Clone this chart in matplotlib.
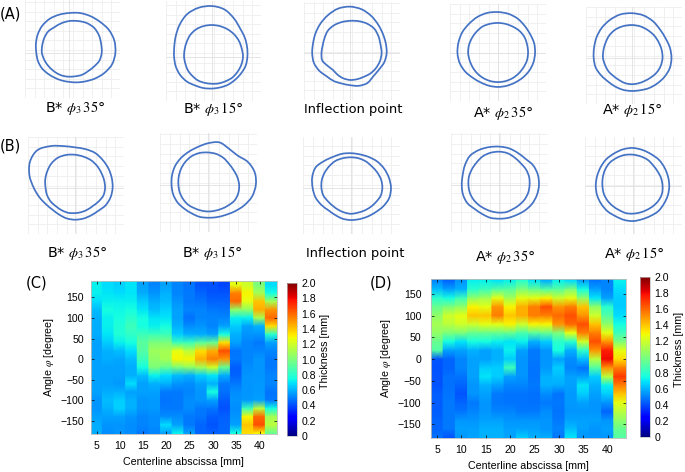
import numpy as np
import matplotlib
matplotlib.use("Agg")
import matplotlib.pyplot as plt
from matplotlib.path import Path
from matplotlib.patches import PathPatch
from matplotlib.cm import ScalarMappable
from matplotlib.colors import Normalize

plt.rcParams['font.family'] = ['Liberation Sans', 'DejaVu Sans']
plt.rcParams['mathtext.fontset'] = 'stix'

W, H = 685, 472
BLUE = "#4472c4"

# wall contours: radius every 15 degrees, ccw from +x (grid step = 10)
a1_outer = [48,49,48,45,44,43,41,41,41,40,38,36,34,34,33,31,30,30,30,32,34,38,42,47]
a1_inner = [34,34,36,37,36,34,33,32,30,32,30,29,29,27,26,25,25,25,25,25,27,27,29,33]
a2_outer = [37,38,40,41,46,52,53,53,52,47,43,40,39,39,38,37,34,34,33,33,34,34,35,37]
a2_inner = [33,32,33,33,33,33,33,33,33,32,30,29,29,28,29,28,29,28,28,29,29,31,31,32]
a3_outer = [38,38,39,41,44,47,48,48,45,43,41,39,39,39,37,33,34,32,33,35,37,33,34,37]
a3_inner = [33,32,34,36,35,34,33,33,33,33,30,29,29,31,26,24,26,27,28,28,28,30,31,32]
a4_outer = [38,39,38,39,41,42,42,43,43,42,43,42,42,41,39,36,35,35,35,35,35,36,37,38]
a4_inner = [31,31,32,32,31,31,31,31,32,31,31,31,31,30,30,30,30,30,30,30,30,30,30,31]
a5_outer = [41,41,40,41,44,46,46,47,45,44,42,40,39,39,36,34,34,34,34,34,36,37,39,41]
a5_inner = [32,32,32,33,33,34,34,34,34,33,31,30,30,28,28,26,26,27,27,27,27,28,30,31]
b1_outer = [39,39,40,40,42,41,41,44,49,57,54,49,42,38,34,32,32,33,33,33,33,33,37,38]
b1_inner = [31,31,31,32,33,33,34,35,36,35,33,32,30,30,29,27,27,27,26,26,26,26,28,31]
b2_outer = [49,50,48,41,42,47,42,40,39,39,39,38,37,37,36,34,33,34,33,34,35,38,42,47]
b2_inner = [32,31,30,30,32,33,33,34,34,33,32,31,30,30,29,29,27,27,27,27,28,29,32,32]
b3_outer = [41,40,39,38,36,35,35,36,36,38,43,41,39,38,35,32,32,33,33,33,34,35,38,41]
b3_inner = [32,32,31,30,31,31,31,31,32,31,31,31,30,30,27,26,26,26,27,26,27,28,29,32]
b4_outer = [41,41,41,37,38,39,39,40,41,43,40,38,38,38,38,34,34,35,34,35,35,37,39,40]
b4_inner = [31,32,32,31,32,34,34,34,34,32,32,32,31,31,30,29,28,28,28,29,28,29,30,31]
b5_outer = [37,37,37,38,37,38,39,39,38,39,38,38,38,38,37,37,35,36,36,35,35,37,36,37]
b5_inner = [30,30,29,29,31,31,32,33,33,34,33,32,31,31,30,29,28,29,28,28,28,29,30,31]

# thickness maps, one list per 2.5 mm column, rows from +180 down to -180
rows = [180,160,140,120,100,80,60,40,20,0,-20,-40,-60,-80,-100,-120,-140,-160,-180]
c_cols = [
    [.72,.72,.68,.62,.6,.59,.59,.57,.57,.57,.57,.57,.57,.57,.54,.54,.57,.59,.59],
    [.68,.7,.72,.75,.72,.72,.7,.65,.6,.59,.57,.57,.57,.59,.62,.6,.57,.54,.53],
    [.66,.68,.72,.74,.75,.78,.78,.72,.62,.58,.57,.57,.55,.6,.65,.66,.57,.54,.54],
    [.7,.7,.72,.75,.8,.85,.82,.75,.68,.62,.59,.6,.68,.57,.6,.6,.54,.53,.53],
    [.57,.59,.65,.7,.75,.75,.85,.92,.9,.85,.75,.62,.57,.57,.54,.54,.51,.51,.49],
    [.51,.54,.59,.62,.7,.72,.85,1,1.08,1.05,1,.72,.6,.57,.55,.55,.53,.53,.51],
    [.57,.6,.62,.66,.7,.75,.85,1,1.1,1.1,.95,.68,.6,.49,.48,.49,.53,.68,.57],
    [.51,.51,.54,.57,.57,.6,.65,.85,1.25,1.3,1,.62,.54,.49,.49,.49,.53,.57,.72],
    [.48,.49,.49,.51,.47,.53,.6,.85,1.15,1.3,1.05,.6,.53,.51,.53,.53,.49,.49,.57],
    [.42,.45,.48,.51,.51,.54,.59,.92,1.35,1.45,1.1,.65,.57,.54,.54,.49,.48,.45,.45],
    [.41,.42,.45,.49,.51,.51,.57,.95,1.45,1.55,1.2,.7,.6,.75,.57,.48,.43,.42,.44],
    [.39,.42,.45,.48,.51,.57,.75,1.35,1.65,1.5,.95,.59,.49,.47,.43,.41,.44,.45,.45],
    [1.25,1.55,1.6,1.05,.72,.65,.6,.57,.48,.49,.43,.45,.49,.53,.54,.53,.54,.57,.75],
    [1.2,1.3,1.25,1.05,.72,.57,.54,.51,.51,.51,.53,.54,.54,.54,.55,.85,1.3,1.4,1.35],
    [1,1.1,1.4,1.45,1.1,.6,.54,.49,.51,.54,.54,.54,.55,.55,.57,1.15,1.6,1.65,1.3],
    [.68,.75,1.1,1.5,1.6,1.35,.8,.57,.51,.49,.49,.51,.51,.48,.49,.75,1.1,1.15,.95],
]
d_cols = [
    [.51,.62,.8,.95,1.05,1.1,1.05,.95,.9,.42,.41,.42,.41,.43,.43,.43,.45,.45,.48],
    [.45,.57,.75,1,1.2,1.15,1,.75,.57,.45,.45,.47,.47,.48,.49,.49,.49,.49,.42],
    [.54,.6,.85,1.05,1.25,1.2,1,.7,.57,.51,.51,.48,.45,.42,.45,.48,.54,.57,.54],
    [.72,.8,1.05,1.3,1.4,1.2,.95,.75,.6,.57,.57,.57,.54,.54,.49,.51,.54,.57,.57],
    [.72,.85,1.1,1.25,1.4,1.25,.95,.75,.57,.57,.65,.7,.6,.57,.54,.54,.57,.6,.6],
    [.7,.9,1.25,1.5,1.55,1.25,.95,.72,.6,.6,.65,.65,.57,.49,.49,.51,.57,.6,.6],
    [.72,.92,1.1,1.3,1.4,1.3,.95,.7,.72,.65,.85,.57,.51,.48,.48,.51,.54,.57,.57],
    [.8,1,1.25,1.45,1.45,1.2,.88,.72,.57,.54,.54,.54,.51,.48,.48,.49,.54,.57,.65],
    [.7,.95,1.25,1.55,1.55,1.3,.92,.6,.49,.49,.48,.48,.49,.47,.47,.49,.54,.57,.6],
    [.6,.9,1.3,1.65,1.55,1.3,.95,.65,.54,.54,.55,.6,.6,.53,.49,.53,.54,.54,.59],
    [.72,.92,1.2,1.5,1.6,1.5,1,.8,.75,.57,.65,.62,.59,.48,.49,.48,.49,.51,.48],
    [.68,1,1.25,1.55,1.65,1.6,1.25,.8,.6,.53,.51,.57,.57,.55,.55,.54,.57,.62,.7],
    [.57,.75,1.05,1.4,1.5,1.65,1.55,1.2,.82,.62,.48,.57,.7,.65,.57,.54,.57,.57,.54],
    [.48,.57,.7,1.05,1.2,1.4,1.55,1.65,1.5,1.15,.9,.65,.6,.57,.54,.54,.57,.54,.54],
    [.51,.51,.57,.8,.9,1.05,1.25,1.5,1.75,1.8,1.5,1.15,.72,.65,.54,.45,.54,.57,.54],
    [.72,.68,.65,.65,.68,.75,.85,1.0,1.25,1.35,1.55,1.7,1.55,1.4,1.25,1.15,1.05,.95,.9],
]
x_ticks = [5,10,15,20,25,30,35,40]
y_ticks = [-150,-100,-50,0,50,100,150]
cb_ticks = [0,0.2,0.4,0.6,0.8,1.0,1.2,1.4,1.6,1.8,2.0]
cb_labels = ['0','0.2','0.4','0.6','0.8','1.0','1.2','1.4','1.6','1.8','2.0']

fig = plt.figure(figsize=(W/100, H/100), dpi=100)


def box(x0, y0, x1, y1):
    # pixel box (y down) to figure fractions
    return [x0/W, 1-y1/H, (x1-x0)/W, (y1-y0)/H]


def ring(ax, radii):
    # closed smooth curve through the read points, evens out reading jitter
    r = np.array(radii, dtype=float)
    r = 0.2*np.roll(r, 1)+0.6*r+0.2*np.roll(r, -1)
    a = np.deg2rad(np.arange(len(r))*15)
    p = np.c_[r*np.cos(a), r*np.sin(a)]
    verts = [p[0]]
    codes = [Path.MOVETO]
    n = len(p)
    for i in range(n):
        p0, p1, p2, p3 = p[i-1], p[i], p[(i+1) % n], p[(i+2) % n]
        verts += [p1+(p2-p0)/6, p2-(p3-p1)/6, p2]
        codes += [Path.CURVE4]*3
    ax.add_patch(PathPatch(Path(verts, codes), fill=False, ec=BLUE, lw=1.25))


def contour_panel(x0, y0, x1, y1, cx, cy, outer, inner):
    ax = fig.add_axes(box(x0, y0, x1, y1))
    s = (x1-x0)/99.0
    ax.set_xlim((x0-cx)/s, (x1-cx)/s)
    ax.set_ylim((cy-y1)/s, (cy-y0)/s)
    for sp in ax.spines.values():
        sp.set_visible(False)
    ax.set_xticks([])
    ax.set_yticks([])
    for k in range(11):
        ax.axvline(ax.get_xlim()[0]+k*10, color="#eeeeee", lw=0.6, zorder=0)
        ax.axhline(ax.get_ylim()[0]+k*10, color="#eeeeee", lw=0.6, zorder=0)
    ax.axvline(0, color="#e0e0e0", lw=0.6, zorder=0)
    ax.axhline(0, color="#e0e0e0", lw=0.6, zorder=0)
    ring(ax, outer)
    ring(ax, inner)


contour_panel(25, 0, 120, 98, 69.3, 52.7, a1_outer, a1_inner)
contour_panel(166, 1, 261, 101, 211.7, 56.7, a2_outer, a2_inner)
contour_panel(304, 2, 400, 100, 350, 53, a3_outer, a3_inner)
contour_panel(450, 4, 546, 101, 498, 53, a4_outer, a4_inner)
contour_panel(586, 7, 682, 104, 631.7, 58, a5_outer, a5_inner)
contour_panel(28, 137, 124, 234, 75, 187.7, b1_outer, b1_inner)
contour_panel(160, 133, 257, 232, 208, 185, b2_outer, b2_inner)
contour_panel(303, 137, 400, 234, 351, 187.7, b3_outer, b3_inner)
contour_panel(451, 133, 548, 232, 499, 185, b4_outer, b4_inner)
contour_panel(585, 137, 682, 234, 633, 186, b5_outer, b5_inner)


def label(x, y, s, size=10.4):
    fig.text(x/W, 1-y/H, s, ha='center', va='center', fontsize=size,
             family=['DejaVu Sans'])


phi3 = r"$\phi_{3}\,\mathrm{%d}$°"
phi2 = r"$\phi_{2}\,\mathrm{%d}$°"
for x, y, s in [(75, 108, "B* "+phi3 % 35), (213, 109, "B* "+phi3 % 15),
                (503, 113, "A* "+phi2 % 35), (632, 110, "A* "+phi2 % 15),
                (77, 253, "B* "+phi3 % 35), (212, 253, "B* "+phi3 % 15),
                (505, 257, "A* "+phi2 % 35), (634, 254, "A* "+phi2 % 15)]:
    label(x, y, s)
for x, y, s in [(353, 109, "Inflection point"), (355, 253, "Inflection point")]:
    label(x, y, s, 9.4)
for x, y, s in [(10, 14, "(A)"), (10, 146, "(B)"), (37, 283, "(C)"), (381, 283, "(D)")]:
    label(x, y, s, 10.5)


def heat_panel(axbox, cbbox, cols, ylim, ypad, ylab_x, xlab_y, cb_lab):
    ax = fig.add_axes(box(*axbox))
    norm = Normalize(0, 2)
    xedges = 3.75+2.5*np.arange(len(cols)+1)
    # sharp between columns, smooth along each column
    yy = np.array([rows[0]+10]+rows+[rows[-1]-10], dtype=float)
    for i, col in enumerate(cols):
        vals = np.array([col[0]]+col+[col[-1]])
        ax.pcolormesh(xedges[i:i+2], yy, np.c_[vals, vals], cmap='jet', norm=norm,
                      shading='gouraud')
    ax.set_xlim(xedges[0], xedges[-1])
    ax.set_ylim(*ylim)
    ax.set_xticks(x_ticks)
    ax.set_yticks(y_ticks)
    ax.tick_params(direction='in', top=True, right=True, length=2, width=0.5,
                   labelsize=7.6)
    ax.tick_params(axis='y', pad=ypad)
    ax.tick_params(axis='x', pad=5)
    for sp in ax.spines.values():
        sp.set_color('#bbbbbb')
        sp.set_linewidth(0.6)
    ax.set_xlabel("Centerline abscissa [mm]", fontsize=7.7, va='center')
    ax.set_ylabel(r"Angle $\varphi$ [degree]", fontsize=7.7, va='center')
    ax.xaxis.set_label_coords(0.5, xlab_y)
    ax.yaxis.set_label_coords(ylab_x, 0.5)
    cax = fig.add_axes(box(*cbbox))
    cb = fig.colorbar(ScalarMappable(norm=norm, cmap='jet'), cax=cax)
    cb.set_ticks(cb_ticks)
    cb.set_ticklabels(cb_labels)
    cb.ax.tick_params(length=0, labelsize=7.6, pad=3)
    cb.outline.set_edgecolor('#bbbbbb')
    cb.outline.set_linewidth(0.5)
    cb.set_label("Thickness [mm]", fontsize=7.7, va='center')
    cb.ax.yaxis.set_label_coords(cb_lab, 0.55)


heat_panel((90.7, 281, 277, 434), (287, 283, 297, 436), c_cols, (-182, 190),
           5, -0.224, -0.183, 3.8)
heat_panel((431, 279, 626, 438), (640, 277, 650, 437), d_cols, (-181, 184),
           7, -0.23, -0.176, 3.9)

fig.savefig("out.png", dpi=100)
